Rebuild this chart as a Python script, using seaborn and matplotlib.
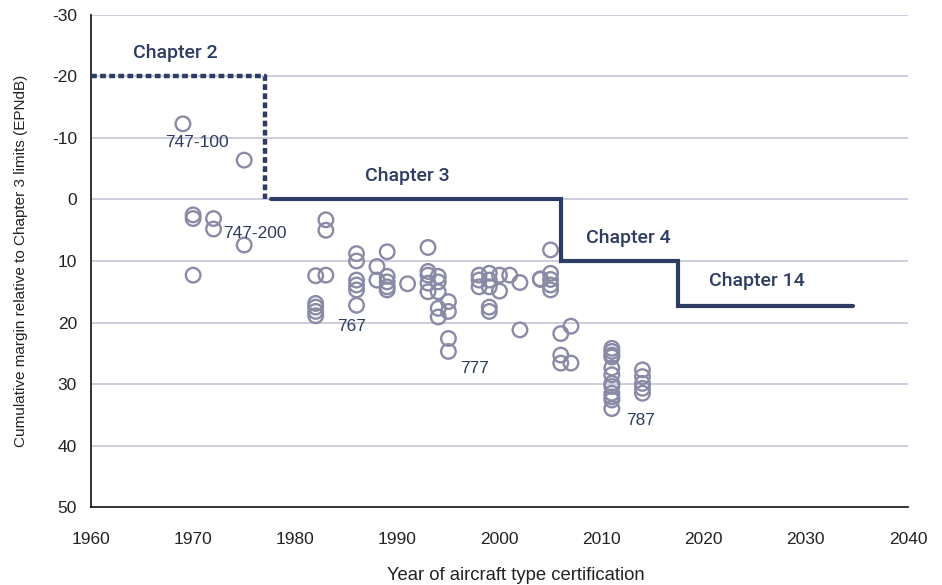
import matplotlib
matplotlib.use("Agg")
import matplotlib.pyplot as plt
import seaborn as sns

# Aircraft types: certification year vs cumulative margin (EPNdB, negative = louder)
years = [1969, 1975, 1970, 1970, 1972, 1972, 1975, 1970,
         1983, 1983, 1982, 1983, 1982, 1982, 1982, 1982,
         1986, 1986, 1986, 1986, 1986, 1986, 1988, 1988,
         1989, 1989, 1989, 1989, 1989, 1991,
         1993, 1993, 1993, 1993, 1993, 1994, 1994, 1994, 1994, 1994,
         1995, 1995, 1995, 1995,
         1998, 1998, 1998, 1999, 1999, 1999, 1999, 1999,
         2000, 2000, 2001, 2002, 2002, 2004, 2004,
         2005, 2005, 2005, 2005, 2005,
         2006, 2007, 2006, 2006, 2007,
         2011, 2011, 2011, 2011, 2011, 2011, 2011, 2011, 2011, 2011, 2011, 2011,
         2014, 2014, 2014, 2014, 2014]
margins = [-12.3, -6.4, 2.5, 3.1, 3.1, 4.8, 7.4, 12.3,
           3.3, 5.0, 12.4, 12.3, 16.9, 17.5, 18.2, 18.9,
           8.8, 10.0, 13.1, 13.9, 14.7, 17.2, 10.9, 13.1,
           8.5, 12.5, 13.4, 14.2, 14.7, 13.7,
           7.8, 11.7, 12.3, 13.6, 15.0, 12.5, 13.4, 15.0, 17.7, 19.1,
           16.6, 18.2, 22.6, 24.7,
           12.3, 13.1, 14.2, 12.0, 13.1, 14.2, 17.5, 18.2,
           12.3, 14.9, 12.3, 13.5, 21.2, 12.9, 13.0,
           8.2, 12.0, 13.0, 13.9, 14.7,
           21.8, 20.6, 25.3, 26.6, 26.6,
           24.2, 24.7, 25.3, 25.6, 27.4, 28.5, 29.9, 30.4, 31.5, 32.1, 32.6, 34.0,
           27.7, 28.8, 29.9, 30.7, 31.5]

# Noise standard steps
ch2_x = [1960, 1977, 1977]
ch2_y = [-20, -20, 0]
ch3_x = [1977.6, 2006, 2006, 2017.5, 2017.5, 2034.6]
ch3_y = [0, 0, 10, 10, 17.3, 17.3]

type_labels = ["747-100", "747-200", "767", "777", "787"]
type_x = [1970.4, 1976.0, 1985.5, 1997.6, 2013.8]
type_y = [-9.3, 5.6, 20.6, 27.5, 35.9]

chapter_labels = ["Chapter 2", "Chapter 3", "Chapter 4", "Chapter 14"]
chapter_x = [1968.3, 1991.0, 2012.6, 2025.2]
chapter_y = [-23.8, -3.8, 6.3, 13.2]

navy = "#2d3c62"
circle_col = "#8a8aa6"
grid_col = "#c5c4d8"

sns.set_style("white")
plt.rcParams["font.family"] = ["Liberation Sans", "DejaVu Sans"]
plt.rcParams["axes.unicode_minus"] = False

fig = plt.figure(figsize=(9.42, 5.85), dpi=100)
ax = fig.add_axes([0.0966, 0.1333, 0.8673, 0.8411])

for v in range(-30, 41, 10):
    ax.axhline(v, color=grid_col, lw=1.2, zorder=0)

sns.scatterplot(x=years, y=margins, ax=ax, marker="o", s=110,
                facecolors="none", edgecolor=circle_col, linewidth=1.7, zorder=3)

ax.plot(ch2_x, ch2_y, color=navy, lw=3.2, ls=(0, (1.3, 0.75)), zorder=4)
ax.plot(ch3_x, ch3_y, color=navy, lw=3.0, zorder=4, solid_joinstyle="miter")

for t, x, y in zip(type_labels, type_x, type_y):
    ax.text(x, y, t, color=navy, fontsize=12.5, ha="center", va="center", zorder=5)
for t, x, y in zip(chapter_labels, chapter_x, chapter_y):
    ax.text(x, y, t, color=navy, fontsize=14, fontweight="medium",
            ha="center", va="center", family=["Roboto", "DejaVu Sans"], zorder=5)

ax.set_xlim(1960, 2040)
ax.set_ylim(50, -30)
ax.set_xticks(range(1960, 2041, 10))
ax.set_yticks(range(-30, 51, 10))
ax.tick_params(axis="both", length=0, labelsize=12.5, colors="#222222")
ax.tick_params(axis="y", pad=10)
ax.tick_params(axis="x", pad=18)
for s in ["top", "right"]:
    ax.spines[s].set_visible(False)
for s in ["left", "bottom"]:
    ax.spines[s].set_color("#111111")
    ax.spines[s].set_linewidth(1.2)

ax.set_xlabel("Year of aircraft type certification", fontsize=13.3, color="#222222")
ax.xaxis.set_label_coords(0.52, -0.122)
ax.set_ylabel("Cumulative margin relative to Chapter 3 limits (EPNdB)", fontsize=11,
              color="#222222")
ax.yaxis.set_label_coords(-0.077, 0.5)

fig.savefig("out.png", dpi=100)
